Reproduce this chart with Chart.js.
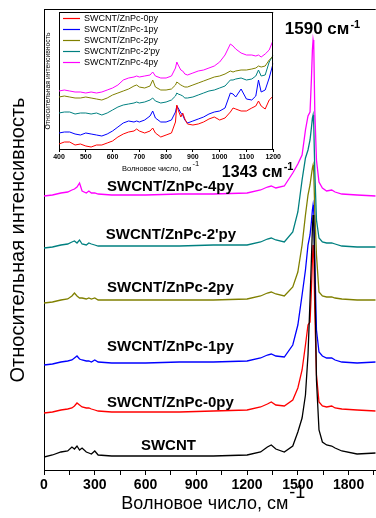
<!DOCTYPE html>
<html><head><meta charset="utf-8">
<script src="https://cdn.jsdelivr.net/npm/chart.js@4.4.0/dist/chart.umd.min.js"></script>
<style>
html,body{margin:0;padding:0;background:#fff;}
#wrap{position:relative;width:376px;height:518px;overflow:hidden;}
#main{position:absolute;left:0;top:0;}
#inset{position:absolute;left:38px;top:11px;}
</style></head><body>
<div id="wrap">
<canvas id="main" width="376" height="518"></canvas>
<canvas id="inset" width="244" height="166"></canvas>
</div>
<script>
// ---------- DATA: main Raman spectra ----------
const ramanX = [0, 50, 100, 140, 165, 180, 195, 210, 225, 250, 265, 280, 300, 320, 400, 600, 800, 1000, 1200, 1280, 1320, 1343, 1370, 1420, 1470, 1500, 1525, 1545, 1560, 1572, 1580, 1586, 1590, 1594, 1600, 1610, 1625, 1645, 1670, 1700, 1720, 1760, 1850, 1960];
const swcnt = [13,15,18,19,23,21,24,20,22,18,17,16,19,15,14,14,14,14,15,18,23,25,21,18,24,38,52,75,115,170,210,242,255,250,200,90,40,28,25,24,22,19,16,17];
const py0   = [57,58,60,61,62,64,67,65,63,62,62,61,60,59,58,58,58,59,60,63,66,68,65,64,70,82,100,125,145,148,180,210,225,218,160,95,68,64,63,64,62,61,60,59];
const py1   = [105,106,108,109,110,112,114,111,110,109,109,108,110,108,107,107,108,108,109,112,115,116,114,113,125,145,175,200,225,235,248,260,265,258,210,140,118,114,112,112,110,108,107,108];
const py2   = [167,168,170,171,174,177,174,172,172,171,172,171,172,170,170,170,170,170,171,174,177,178,176,174,183,198,225,255,275,285,295,302,305,298,260,215,178,174,173,173,172,171,170,170];
const py2p  = [222,223,225,226,228,229,227,230,226,225,227,226,225,224,224,224,224,225,225,228,231,232,230,228,238,258,290,312,320,330,342,352,355,345,300,250,232,228,227,227,226,224,223,223];
const py4   = [274,275,277,278,280,281,283,287,279,277,279,277,277,276,275,275,276,276,277,280,283,284,282,284,297,306,315,340,354,358,390,420,430,425,360,310,288,282,279,280,278,276,275,274];
const mainTickValues = [0,150,300,450,600,750,900,1050,1200,1350,1500,1650,1800,1950];

// ---------- DATA: inset (400-1200 cm-1) ----------
const insetX = [400,420,440,460,480,500,520,540,560,580,600,620,640,660,680,690,700,720,740,750,760,780,800,820,835,840,845,855,862,870,880,900,920,940,960,980,1000,1020,1040,1050,1060,1080,1100,1120,1135,1145,1155,1170,1185,1200];
const in0  = [5,7,7,4,5,3,2,4,4,6,8,12,15,17,18,20,18,16,18,21,16,12,14,16,27,44,39,32,36,30,25,24,25,27,30,32,29,31,37,41,40,38,38,41,43,48,43,40,49,53];
const in1  = [16,17,17,15,14,16,15,14,13,15,18,22,26,28,27,28,27,29,33,38,31,27,27,29,37,43,41,36,34,29,26,28,30,32,35,37,38,41,56,55,52,60,50,49,53,69,57,59,71,86];
const in2  = [52,53,52,51,51,52,51,50,49,51,54,56,58,60,63,64,62,61,63,69,62,59,59,60,64,67,66,64,63,62,62,64,66,68,70,72,73,75,78,77,78,79,79,80,81,83,82,83,89,93];
const in2p = [36,37,37,35,36,36,35,36,34,36,39,42,44,45,46,47,46,47,49,51,48,46,47,49,53,56,55,54,53,51,51,52,54,56,58,59,61,63,69,69,70,71,69,70,73,79,73,74,87,94];
const in4  = [58,59,58,57,57,56,57,56,57,59,61,64,69,71,72,73,72,73,74,77,73,71,71,73,81,87,84,79,78,75,74,76,78,79,81,83,87,94,105,103,100,96,94,94,93,94,92,95,99,109];
const insetTickValues = [400,500,600,700,800,900,1000,1100,1200];

// ---------- styles ----------
const FONT = '"Liberation Sans", Arial, Helvetica, sans-serif';
const COL = {swcnt:'#000000', py0:'#ff0000', py1:'#0000ff', py2:'#808000', py2p:'#008080', py4:'#ff00ff'};

const mainSeries = [
  {label:'SWCNT', values:swcnt, color:COL.swcnt},
  {label:'SWCNT/ZnPc-4py', values:py4, color:COL.py4},
  {label:"SWCNT/ZnPc-2'py", values:py2p, color:COL.py2p},
  {label:'SWCNT/ZnPc-2py', values:py2, color:COL.py2},
  {label:'SWCNT/ZnPc-1py', values:py1, color:COL.py1},
  {label:'SWCNT/ZnPc-0py', values:py0, color:COL.py0}
];
const insetSeries = [
  {label:'SWCNT/ZnPc-0py', values:in0, color:COL.py0},
  {label:'SWCNT/ZnPc-1py', values:in1, color:COL.py1},
  {label:'SWCNT/ZnPc-2py', values:in2, color:COL.py2},
  {label:"SWCNT/ZnPc-2'py", values:in2p, color:COL.py2p},
  {label:'SWCNT/ZnPc-4py', values:in4, color:COL.py4}
];

// annotation placement (in data units)
const mainNotes = [
  {text:'SWCNT/ZnPc-4py', x:747, y:283, size:15},
  {text:"SWCNT/ZnPc-2'py", x:750, y:235, size:15},
  {text:'SWCNT/ZnPc-2py', x:747, y:182, size:15},
  {text:'SWCNT/ZnPc-1py', x:747, y:123, size:15},
  {text:'SWCNT/ZnPc-0py', x:747, y:67, size:15},
  {text:'SWCNT', x:735, y:24, size:15},
  {text:'1590 см', sup:'-1', x:1423, y:436, size:17, supSize:11, rise:6, align:'left', baseline:'alphabetic'},
  {text:'1343 см', sup:'-1', x:1051, y:293, size:16, supSize:11, rise:7, align:'left', baseline:'alphabetic'}
];

const notesPlugin = {
  id:'notes',
  afterDatasetsDraw(chart){
    const {ctx, scales:{x, y}} = chart;
    ctx.save();
    ctx.fillStyle = '#000';
    for (const a of mainNotes){
      const px = x.getPixelForValue(a.x), py = y.getPixelForValue(a.y);
      ctx.font = 'bold ' + a.size + 'px ' + FONT;
      ctx.textAlign = a.align || 'center';
      ctx.textBaseline = a.baseline || 'middle';
      ctx.fillText(a.text, px, py);
      if (a.sup){
        const w = ctx.measureText(a.text).width;
        ctx.font = 'bold ' + a.supSize + 'px ' + FONT;
        ctx.textAlign = 'left';
        ctx.fillText(a.sup, px + w + 1, py - a.rise);
      }
    }
    ctx.restore();
  }
};

function frameSides(sides){
  return {
    id:'frame',
    afterDraw(chart){
      const {ctx, chartArea:{left, right, top, bottom}} = chart;
      ctx.save();
      ctx.strokeStyle = '#000'; ctx.lineWidth = 1;
      ctx.beginPath();
      const t = Math.round(top) - 0.5, r = Math.round(right) - 0.5;
      if (sides.includes('top')){ ctx.moveTo(left, t); ctx.lineTo(right, t); }
      if (sides.includes('right')){ ctx.moveTo(r, top); ctx.lineTo(r, bottom); }
      ctx.stroke();
      ctx.restore();
    }
  };
}

function supTitle(size, supSize, rise, padBottom){
  return {
    id:'supTitle',
    afterDraw(chart){
      const xs = chart.scales.x, ctx = chart.ctx;
      const full = xs.options.title.text, core = full.replace(/\s+$/, '');
      ctx.save();
      ctx.font = size + 'px ' + FONT;
      const W = ctx.measureText(full).width, w = ctx.measureText(core).width;
      const cx = (xs.left + xs.right) / 2;
      const start = cx - W / 2;
      const ty = xs.bottom - padBottom - size * 1.2 / 2;
      ctx.font = supSize + 'px ' + FONT;
      ctx.fillStyle = '#000';
      ctx.textAlign = 'left'; ctx.textBaseline = 'middle';
      ctx.fillText('-1', start + w + 1, ty - rise);
      ctx.restore();
    }
  };
}

// ---------- main chart ----------
new Chart(document.getElementById('main'), {
  type:'line',
  data:{
    datasets: mainSeries.map(s => ({
      label:s.label,
      data: ramanX.map((xv, i) => ({x:xv, y:s.values[i]})),
      borderColor:s.color, backgroundColor:s.color,
      borderWidth:1.3, pointRadius:0, tension:0, fill:false
    }))
  },
  options:{
    responsive:false, animation:false, devicePixelRatio:1,
    layout:{padding:{top:10, right:0, bottom:0, left:0}},
    plugins:{legend:{display:false}, tooltip:{enabled:false}},
    scales:{
      x:{
        type:'linear', min:0, max:1960,
        afterBuildTicks:s => { s.ticks = mainTickValues.map(v => ({value:v})); },
        afterFit:s => { s.height = 48; },
        ticks:{autoSkip:false, maxRotation:0, padding:2, color:'#000',
          font:{family:FONT, size:14, weight:'bold'},
          callback:v => (v % 300 === 0 ? String(v) : '')},
        grid:{drawOnChartArea:false, drawTicks:true, tickLength:5, tickColor:'#000', color:'#000'},
        border:{display:true, color:'#000', width:1},
        title:{display:true, text:'Волновое число, см  ', color:'#000',
          font:{family:FONT, size:18}, padding:{top:0, bottom:3}}
      },
      y:{
        min:0, max:460,
        afterFit:s => { s.width = 44; },
        ticks:{display:false},
        grid:{display:false},
        border:{display:true, color:'#000', width:1},
        title:{display:true, text:'Относительная интенсивность', color:'#000',
          font:{family:FONT, size:20}, padding:{top:6, bottom:0}}
      }
    }
  },
  plugins:[notesPlugin, frameSides(['top']), supTitle(18, 18, 11, 3)]
});

// ---------- inset chart ----------
const insetBg = {
  id:'insetBg',
  beforeDraw(chart){
    const {ctx, chartArea:{left, right, top, bottom}} = chart;
    ctx.save(); ctx.fillStyle = '#fff';
    ctx.fillRect(left, top, right - left, bottom - top);
    ctx.restore();
  }
};
const insetLegend = {
  id:'insetLegend',
  afterDraw(chart){
    const {ctx, chartArea:{left, top}} = chart;
    ctx.save();
    ctx.font = '9px ' + FONT;
    ctx.textBaseline = 'middle'; ctx.textAlign = 'left';
    chart.data.datasets.forEach((d, i) => {
      const yy = top + 5.5 + i * 11;
      ctx.strokeStyle = d.borderColor; ctx.lineWidth = 1.2;
      ctx.beginPath(); ctx.moveTo(left + 4, yy); ctx.lineTo(left + 21, yy); ctx.stroke();
      ctx.fillStyle = '#000';
      ctx.fillText(d.label, left + 25, yy);
    });
    ctx.restore();
  }
};

new Chart(document.getElementById('inset'), {
  type:'line',
  data:{
    datasets: insetSeries.map(s => ({
      label:s.label,
      data: insetX.map((xv, i) => ({x:xv, y:s.values[i]})),
      borderColor:s.color, backgroundColor:s.color,
      borderWidth:1, pointRadius:0, tension:0, fill:false
    }))
  },
  options:{
    responsive:false, animation:false, devicePixelRatio:1,
    layout:{padding:{top:2, right:5, bottom:0, left:0}},
    plugins:{legend:{display:false}, tooltip:{enabled:false}},
    scales:{
      x:{
        type:'linear', min:400, max:1200,
        afterBuildTicks:s => { s.ticks = insetTickValues.map(v => ({value:v})); },
        afterFit:s => { s.height = 28; },
        ticks:{autoSkip:false, maxRotation:0, padding:1, color:'#000',
          font:{family:FONT, size:7, weight:'bold'}, callback:v => String(v)},
        grid:{drawOnChartArea:false, drawTicks:true, tickLength:3, tickColor:'#000'},
        border:{display:true, color:'#000', width:1},
        title:{display:true, text:'Волновое число, см         ', color:'#000',
          font:{family:FONT, size:7.5}, padding:{top:0, bottom:4}}
      },
      y:{
        min:0, max:136,
        afterFit:s => { s.width = 21; },
        ticks:{display:false},
        grid:{display:false},
        border:{display:true, color:'#000', width:1},
        title:{display:true, text:'Относительная интенсивность', color:'#000',
          font:{family:FONT, size:6.8}, padding:{top:6, bottom:0}}
      }
    }
  },
  plugins:[insetBg, insetLegend, frameSides(['top','right']), supTitle(7.5, 7.5, 5, 4)]
});
</script>
</body></html>
